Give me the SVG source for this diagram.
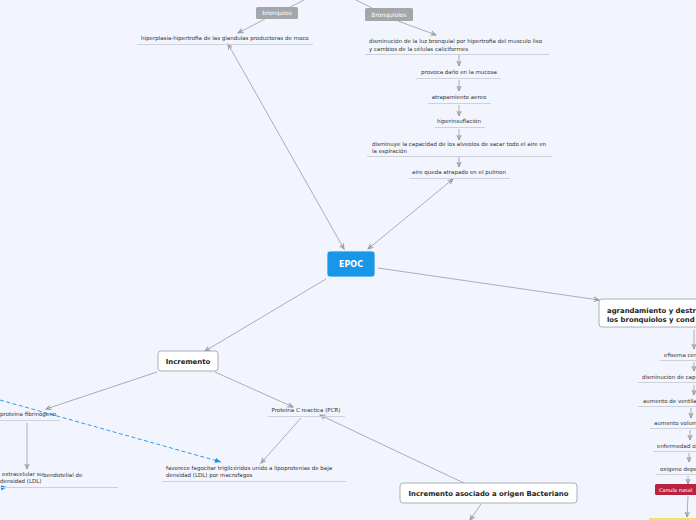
<svg xmlns="http://www.w3.org/2000/svg" width="696" height="520" viewBox="0 0 696 520">
<defs>
<marker id="ah" markerUnits="userSpaceOnUse" markerWidth="6" markerHeight="6" refX="7" refY="4" orient="auto-start-reverse" viewBox="0 0 8 8"><path d="M0,1 L7,4 L0,7 M7,4 L0,4" fill="none" stroke="#9a9ca3" stroke-width="1.3"/></marker>
<marker id="ahb" markerUnits="userSpaceOnUse" markerWidth="7" markerHeight="7" refX="7" refY="4" orient="auto" viewBox="0 0 8 8"><path d="M0,1 L7,4 L0,7 Z" fill="#1f8ee6"/></marker>
</defs>
<style>
.t{font-family:"DejaVu Sans",Verdana,sans-serif;font-size:5.5px;fill:#333}
.tb{font-family:"DejaVu Sans",Verdana,sans-serif;font-size:6.9px;font-weight:bold;fill:#222}
.tw{font-family:"DejaVu Sans",Verdana,sans-serif;font-size:6px;fill:#fff}
.ul{stroke:#cdd1da;stroke-width:1}
.c{stroke:#9a9ca3;stroke-width:0.8;fill:none}
.box{fill:#fff;stroke:#9a9ca3;stroke-width:0.8}
.gray{fill:#a4a6aa}
</style>
<rect width="696" height="520" fill="#f2f5fd"/>
<g id="connectors">
<line class="c" x1="312" y1="-4" x2="290" y2="7"/>
<line class="c" x1="265" y1="19" x2="238" y2="33" marker-end="url(#ah)"/>
<line class="c" x1="352" y1="-2" x2="372" y2="8"/>
<line class="c" x1="398" y1="21" x2="436" y2="35" marker-end="url(#ah)"/>
<line class="c" x1="459" y1="55" x2="459" y2="66" marker-end="url(#ah)"/>
<line class="c" x1="459" y1="80" x2="459" y2="91" marker-end="url(#ah)"/>
<line class="c" x1="459" y1="105" x2="459" y2="116" marker-end="url(#ah)"/>
<line class="c" x1="459" y1="129" x2="459" y2="140" marker-end="url(#ah)"/>
<line class="c" x1="459" y1="157" x2="459" y2="167" marker-end="url(#ah)"/>
<line class="c" x1="453" y1="179" x2="368" y2="249" marker-start="url(#ah)" marker-end="url(#ah)"/>
<line class="c" x1="228" y1="44" x2="344" y2="249" marker-start="url(#ah)" marker-end="url(#ah)"/>
<line class="c" x1="378" y1="268" x2="599" y2="300" marker-end="url(#ah)"/>
<line class="c" x1="694" y1="330" x2="694" y2="349" marker-end="url(#ah)"/>
<line class="c" x1="694" y1="362" x2="694" y2="371" marker-end="url(#ah)"/>
<line class="c" x1="694" y1="385" x2="694" y2="395" marker-end="url(#ah)"/>
<line class="c" x1="691" y1="408" x2="691" y2="418" marker-end="url(#ah)"/>
<line class="c" x1="690" y1="430" x2="690" y2="440" marker-end="url(#ah)"/>
<line class="c" x1="689" y1="453" x2="689" y2="462" marker-end="url(#ah)"/>
<line class="c" x1="688" y1="476" x2="688" y2="484" marker-end="url(#ah)"/>
<line class="c" x1="688" y1="496" x2="687" y2="517" marker-end="url(#ah)"/>
<line class="c" x1="326" y1="279" x2="205" y2="351" marker-end="url(#ah)"/>
<line class="c" x1="157" y1="372" x2="46" y2="409" marker-end="url(#ah)"/>
<line class="c" x1="27" y1="423" x2="27" y2="469" marker-end="url(#ah)"/>
<line class="c" x1="215" y1="372" x2="293" y2="407" marker-end="url(#ah)"/>
<line class="c" x1="301" y1="418" x2="261" y2="463" marker-end="url(#ah)"/>
<line class="c" x1="466" y1="484" x2="320" y2="415" marker-end="url(#ah)"/>
<line class="c" x1="481" y1="504" x2="470" y2="520" marker-end="url(#ah)"/>
<line x1="0" y1="400" x2="221" y2="462" stroke="#1f8ee6" stroke-width="0.9" stroke-dasharray="4,2.5" marker-end="url(#ahb)"/>
<line x1="-12" y1="490" x2="7" y2="487" stroke="#1f8ee6" stroke-width="0.9" stroke-dasharray="4,2.5" marker-end="url(#ahb)"/>
</g>
<g id="bronquios"><rect class="gray" x="256" y="7" width="42" height="12" rx="1.5"/><text class="tw" x="277" y="15.3" text-anchor="middle">bronquios</text></g>
<g id="bronquiolos"><rect class="gray" x="365" y="8" width="48" height="13" rx="1.5"/><text class="tw" x="389" y="16.8" text-anchor="middle">Bronquiolos</text></g>
<g id="hiperplasia"><text class="t" x="141" y="40">hiperplasia-hipertrofia de las glandulas productoras de moco</text><line class="ul" x1="137" y1="44.5" x2="313" y2="44.5"/></g>
<g id="disminucion-luz"><text class="t" x="369" y="43">disminución de la luz bronquial por hipertrofia del musculo liso</text><text class="t" x="369" y="50.5">y cambios de la células caliciformes</text><line class="ul" x1="365" y1="54.5" x2="549" y2="54.5"/></g>
<g id="provoca"><text class="t" x="459" y="74" text-anchor="middle">provoca daño en la mucosa</text><line class="ul" x1="416" y1="78.5" x2="501" y2="78.5"/></g>
<g id="atrapamiento"><text class="t" x="459" y="99" text-anchor="middle">atrapamiento aereo</text><line class="ul" x1="428" y1="103.5" x2="491" y2="103.5"/></g>
<g id="hiperinsuflacion"><text class="t" x="459" y="123" text-anchor="middle">hiperinsuflación</text><line class="ul" x1="435" y1="127.5" x2="485" y2="127.5"/></g>
<g id="disminuye"><text class="t" x="372" y="146">disminuye la capacidad de los alveolos de sacar todo el aire en</text><text class="t" x="372" y="153">la espiración</text><line class="ul" x1="367" y1="156.5" x2="552" y2="156.5"/></g>
<g id="aire"><text class="t" x="459" y="174" text-anchor="middle">aire queda atrapado en el pulmon</text><line class="ul" x1="409" y1="178.5" x2="510" y2="178.5"/></g>
<g id="epoc"><rect x="327" y="251" width="48" height="26" rx="3" fill="#1a96e8" stroke="#e8f2fd" stroke-width="0.8"/><text x="351" y="267" text-anchor="middle" font-family="DejaVu Sans,Verdana,sans-serif" font-size="8px" font-weight="bold" fill="#fff">EPOC</text></g>
<g id="agrandamiento"><rect class="box" x="599" y="299" width="110" height="28" rx="3"/><text class="tb" x="607" y="313">agrandamiento y destr</text><text class="tb" x="607" y="322">los bronquiolos y cond</text></g>
<g id="efisema"><text class="t" x="664" y="357">efisema cen</text><line class="ul" x1="660" y1="360.5" x2="696" y2="360.5"/></g>
<g id="disminucion-cap"><text class="t" x="642" y="379">disminucion de cap</text><line class="ul" x1="638" y1="382.5" x2="696" y2="382.5"/></g>
<g id="aumento-ventila"><text class="t" x="643" y="402.5">aumento de ventila</text><line class="ul" x1="638" y1="406.5" x2="696" y2="406.5"/></g>
<g id="aumento-volum"><text class="t" x="654" y="425">aumento volum</text><line class="ul" x1="650" y1="428.5" x2="696" y2="428.5"/></g>
<g id="enfermedad"><text class="t" x="657" y="447.5">enfermedad ol</text><line class="ul" x1="653" y1="451.5" x2="696" y2="451.5"/></g>
<g id="oxigeno"><text class="t" x="660" y="470.5">oxigeno depe</text><line class="ul" x1="656" y1="474.5" x2="696" y2="474.5"/></g>
<g id="canula"><rect x="655" y="484" width="48" height="11" rx="1.5" fill="#b8243f"/><text x="659" y="491.7" font-family="DejaVu Sans,Verdana,sans-serif" font-size="5.2px" fill="#fff">Canula nasal</text></g>
<g id="yellow-node"><rect x="649" y="518" width="60" height="10" fill="#f3e26a"/></g>
<g id="incremento"><rect class="box" x="158" y="351" width="60" height="20" rx="3"/><text class="tb" x="188" y="363.6" text-anchor="middle">Incremento</text></g>
<g id="fibrinogeno"><text class="t" x="0" y="416">proteina fibrinógeno</text><line class="ul" x1="0" y1="420.5" x2="60" y2="420.5"/></g>
<g id="extracelular"><text class="t" x="2" y="476">extracelular su</text><text class="t" x="43" y="477">bendotelial de</text><text class="t" x="0" y="483">densidad (LDL)</text><line class="ul" x1="0" y1="487.5" x2="118" y2="487.5"/></g>
<g id="pcr"><text class="t" x="306" y="411.5" text-anchor="middle">Proteina C reactica (PCR)</text><line class="ul" x1="268" y1="416.5" x2="345" y2="416.5"/></g>
<g id="favorece"><text class="t" x="166" y="469.5">favorece  fagocitar triglicéridos unido a lipoprotenias de baja</text><text class="t" x="166" y="477">densidad (LDL)  por macrofagos</text><line class="ul" x1="162" y1="481.5" x2="346" y2="481.5"/></g>
<g id="bacteriano"><rect class="box" x="400" y="483" width="177" height="20" rx="3"/><text class="tb" x="488.5" y="495.6" text-anchor="middle">Incremento asociado a origen Bacteriano</text></g>
</svg>
